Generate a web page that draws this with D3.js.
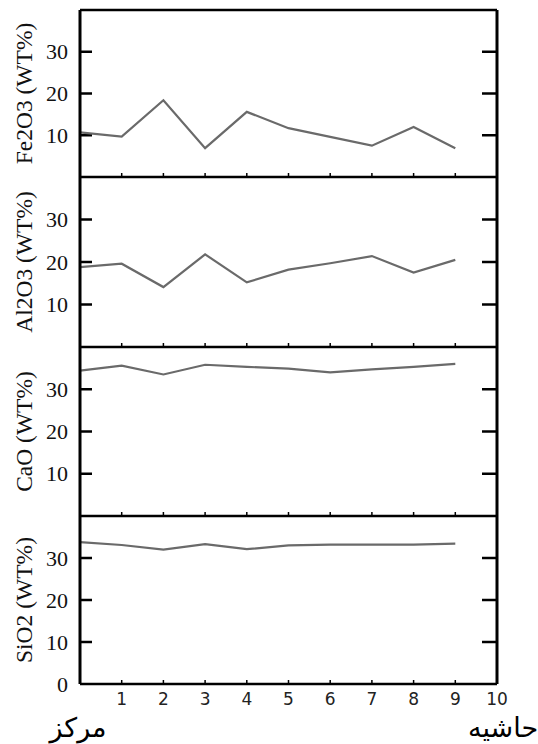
<!DOCTYPE html>
<html>
<head>
<meta charset="utf-8">
<script src="https://cdn.jsdelivr.net/npm/d3@7"></script>
<style>
  body { margin: 0; background: #fff; }
  svg { display: block; }
</style>
</head>
<body>
<svg id="canvas"></svg>
<script>
let positions = [0, 1, 2, 3, 4, 5, 6, 7, 8, 9]
let fe2o3 = [10.7, 9.7, 18.4, 6.9, 15.6, 11.7, 9.6, 7.5, 12.0, 6.9]
let al2o3 = [18.8, 19.6, 14.1, 21.8, 15.2, 18.2, 19.7, 21.4, 17.5, 20.5]
let cao = [34.4, 35.6, 33.5, 35.8, 35.3, 34.9, 34.0, 34.7, 35.3, 36.0]
let sio2 = [33.8, 33.1, 32.0, 33.3, 32.1, 33.0, 33.2, 33.2, 33.2, 33.4]
let panelLabels = ["Fe2O3 (WT%)", "Al2O3 (WT%)", "CaO (WT%)", "SiO2 (WT%)"]
let yTicks = [10, 20, 30]
let xTicks = [1, 2, 3, 4, 5, 6, 7, 8, 9, 10]
let centerLabel = "مرکز"
let rimLabel = "حاشیه"

let series = [fe2o3, al2o3, cao, sio2]

let canvas = d3.select("#canvas")
                .attr("width", 538)
                .attr("height", 744)

// panel edges top to bottom
let edges = [10, 177, 347, 516, 684]
let left = 80, right = 497

let x = d3.scaleLinear().domain([0, 10]).range([left, right])

series.forEach((values, i) => {
    let y = d3.scaleLinear().domain([0, 40]).range([edges[i + 1], edges[i]])
    let g = canvas.append("g")

    // left ticks inward
    g.selectAll(".lt").data(yTicks).enter().append("line")
        .attr("x1", left).attr("x2", left + 12)
        .attr("y1", d => y(d)).attr("y2", d => y(d))
        .attr("stroke", "#000").attr("stroke-width", 2.5)

    // right ticks inward
    g.selectAll(".rt").data(yTicks).enter().append("line")
        .attr("x1", right - 15).attr("x2", right)
        .attr("y1", d => y(d)).attr("y2", d => y(d))
        .attr("stroke", "#000").attr("stroke-width", 2.5)

    // small ticks on bottom edge
    g.selectAll(".bt").data(xTicks.slice(0, 9)).enter().append("line")
        .attr("x1", d => x(d)).attr("x2", d => x(d))
        .attr("y1", edges[i + 1]).attr("y2", edges[i + 1] - 4)
        .attr("stroke", "#000").attr("stroke-width", 1.5)

    let tickVals = i == 3 ? [0].concat(yTicks) : yTicks
    g.selectAll(".yl").data(tickVals).enter().append("text")
        .attr("x", 68).attr("y", d => y(d))
        .attr("dy", "0.35em")
        .attr("text-anchor", "end")
        .attr("font-family", "Liberation Serif, serif")
        .attr("font-size", 22)
        .attr("fill", "#111")
        .text(d => d)

    g.append("text")
        .attr("transform", `translate(24,${y(20)}) rotate(-90)`)
        .attr("dy", "0.35em")
        .attr("text-anchor", "middle")
        .attr("font-family", "Liberation Serif, serif")
        .attr("font-size", 23.5)
        .attr("fill", "#111")
        .text(panelLabels[i])

    g.append("path")
        .datum(values)
        .attr("d", d3.line().x((d, k) => x(positions[k])).y(d => y(d)))
        .attr("fill", "none")
        .attr("stroke", "#6a6a6a")
        .attr("stroke-width", 2.2)
})

// frame lines
canvas.selectAll(".hz").data(edges).enter().append("line")
    .attr("x1", left).attr("x2", right)
    .attr("y1", d => d).attr("y2", d => d)
    .attr("stroke", "#000").attr("stroke-width", 2.5)

canvas.append("line")
    .attr("x1", left).attr("x2", left)
    .attr("y1", edges[0]).attr("y2", edges[4])
    .attr("stroke", "#000").attr("stroke-width", 3)

canvas.append("line")
    .attr("x1", right).attr("x2", right)
    .attr("y1", edges[0]).attr("y2", edges[4])
    .attr("stroke", "#000").attr("stroke-width", 3)

canvas.selectAll(".xl").data(xTicks).enter().append("text")
    .attr("x", d => x(d)).attr("y", 705)
    .attr("text-anchor", "middle")
    .attr("font-family", "DejaVu Sans, sans-serif")
    .attr("font-size", 17)
    .attr("fill", "#222")
    .text(d => d)

canvas.append("text")
    .attr("x", 78).attr("y", 737)
    .attr("text-anchor", "middle")
    .attr("font-family", "DejaVu Sans, sans-serif")
    .attr("font-size", 27)
    .attr("fill", "#000")
    .text(centerLabel)

canvas.append("text")
    .attr("x", 503).attr("y", 737)
    .attr("text-anchor", "middle")
    .attr("font-family", "DejaVu Sans, sans-serif")
    .attr("font-size", 27)
    .attr("fill", "#000")
    .text(rimLabel)
</script>
</body>
</html>
